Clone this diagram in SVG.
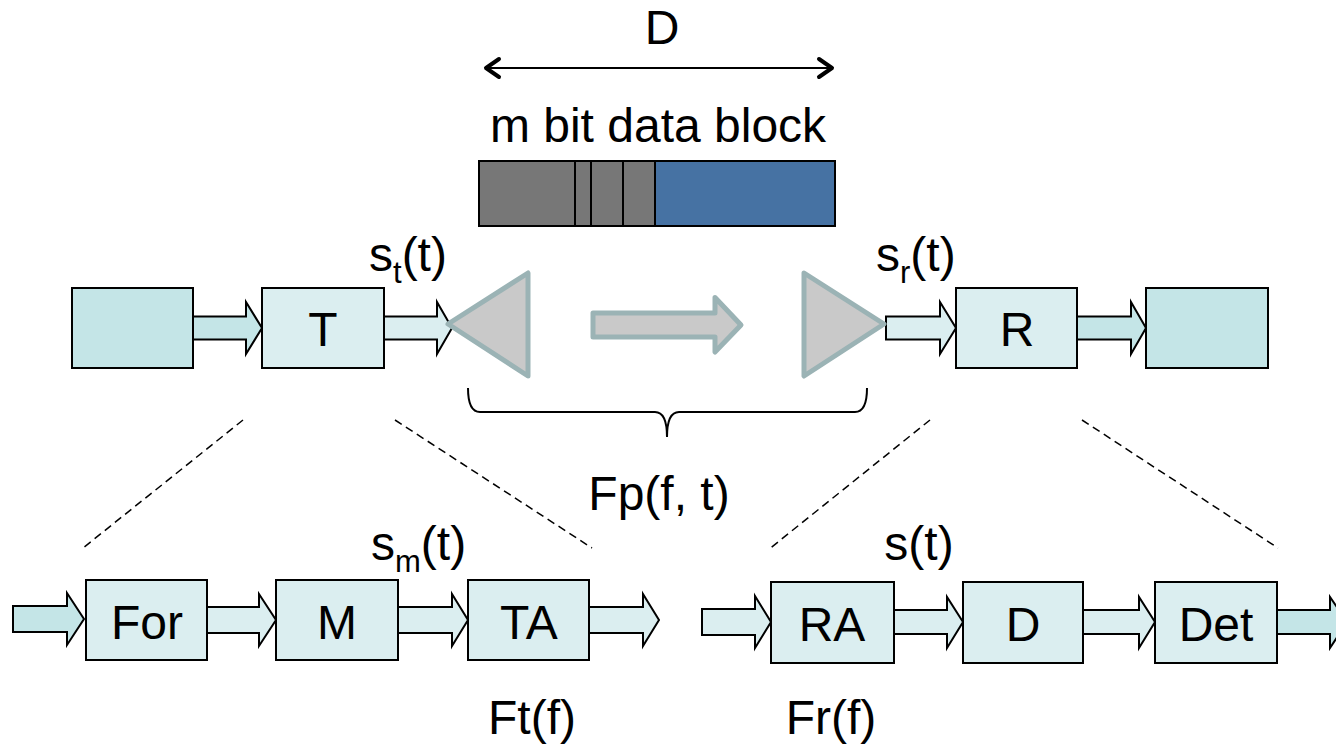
<svg xmlns="http://www.w3.org/2000/svg" width="1336" height="744" viewBox="0 0 1336 744">
<style>
text{font-family:"Liberation Sans",Arial,sans-serif;font-size:48px;fill:#000}
.c{text-anchor:middle}
.box{fill:#dbeef0;stroke:#000;stroke-width:2}
.boxd{fill:#c4e5e7;stroke:#000;stroke-width:2}
.ar{fill:#dbeef0;stroke:#000;stroke-width:2;stroke-linejoin:miter}
.ard{fill:#c4e5e7;stroke:#000;stroke-width:2}
.tri{fill:#c9c9c9;stroke:#9bb3b5;stroke-width:5;stroke-linejoin:round}
.dash{stroke:#000;stroke-width:1.5;stroke-dasharray:8 5;fill:none}
.sub{font-size:31px}
</style>
<rect width="1336" height="744" fill="#fff"/>

<g id="dimension">
<line x1="487" y1="68" x2="831" y2="68" stroke="#000" stroke-width="2"/>
<polyline points="499,59 486,68 499,77" fill="none" stroke="#000" stroke-width="4" stroke-linecap="round" stroke-linejoin="round"/>
<polyline points="819,59 832,68 819,77" fill="none" stroke="#000" stroke-width="4" stroke-linecap="round" stroke-linejoin="round"/>
<text class="c" x="662" y="44">D</text>
</g>

<g id="datablock">
<text class="c" x="658" y="142">m bit data block</text>
<rect x="479" y="161" width="176" height="65" fill="#777777" stroke="#000" stroke-width="2"/>
<rect x="655" y="161" width="180" height="65" fill="#4672a3" stroke="#000" stroke-width="2"/>
<line x1="575" y1="161" x2="575" y2="226" stroke="#000" stroke-width="2"/>
<line x1="591" y1="161" x2="591" y2="226" stroke="#000" stroke-width="2"/>
<line x1="623" y1="161" x2="623" y2="226" stroke="#000" stroke-width="2"/>
</g>

<g id="connectors">
<path class="ard" d="M193,316.5 H246 V302 L262,328 L246,354 V339.5 H193 Z"/>
<path class="ar" d="M384,316.5 H437 V302 L452,328 L437,354 V339.5 H384 Z"/>
<path class="ar" d="M886,316.5 H940 V302 L956,328 L940,354 V339.5 H886 Z"/>
<path class="ard" d="M1077,316.5 H1131 V302 L1146,328 L1131,354 V339.5 H1077 Z"/>
<path class="tri" d="M593,313 H715 V297.5 L741,325 L715,352 V337 H593 Z"/>

<path class="ard" d="M13,606 H67 V593 L84,619 L67,645 V632 H13 Z"/>
<path class="ar" d="M207,607 H259 V594 L276,620 L259,646 V633 H207 Z"/>
<path class="ar" d="M398,607 H452 V594 L468,620 L452,646 V633 H398 Z"/>
<path class="ar" d="M589,607 H643 V594 L659,620 L643,646 V633 H589 Z"/>

<path class="ar" d="M702,609 H755 V596 L771,622 L755,648 V635 H702 Z"/>
<path class="ar" d="M894,610 H947 V597 L963,622 L947,648 V634 H894 Z"/>
<path class="ar" d="M1083,610 H1139 V597 L1155,622 L1139,648 V634 H1083 Z"/>
<path class="ard" d="M1277,610 H1330 V597 L1347,622 L1330,648 V634 H1277 Z"/>

<line class="dash" x1="243" y1="420" x2="83" y2="548"/>
<line class="dash" x1="395" y1="420" x2="592" y2="548"/>
<line class="dash" x1="930" y1="420" x2="768" y2="550"/>
<line class="dash" x1="1082" y1="420" x2="1278" y2="548"/>

<path d="M468,388 Q468,412 480,412 H655 Q667,412 667,437 Q667,412 679,412 H855 Q867,412 867,388" fill="none" stroke="#000" stroke-width="2"/>
</g>

<g id="src"><rect class="boxd" x="72" y="288" width="121" height="80"/></g>
<g id="T"><rect class="box" x="262" y="288" width="122" height="80"/><text class="c" x="323" y="346">T</text></g>
<g id="txant"><path class="tri" d="M448,324 L528,273 V376 Z"/></g>
<g id="rxant"><path class="tri" d="M804,273 L884,324 L804,376 Z"/></g>
<g id="R"><rect class="box" x="956" y="288" width="121" height="80"/><text class="c" x="1017" y="346">R</text></g>
<g id="sink"><rect class="boxd" x="1146" y="288" width="122" height="80"/></g>

<g id="For"><rect class="box" x="86" y="580" width="121" height="80"/><text class="c" x="147" y="639">For</text></g>
<g id="M"><rect class="box" x="276" y="580" width="122" height="80"/><text class="c" x="337" y="639">M</text></g>
<g id="TA"><rect class="box" x="468" y="580" width="121" height="80"/><text class="c" x="529" y="639">TA</text></g>
<g id="RA"><rect class="box" x="771" y="582" width="123" height="81"/><text class="c" x="832" y="641">RA</text></g>
<g id="D"><rect class="box" x="963" y="582" width="120" height="81"/><text class="c" x="1023" y="641">D</text></g>
<g id="Det"><rect class="box" x="1155" y="582" width="122" height="81"/><text class="c" x="1216" y="641">Det</text></g>

<g id="labels">
<text x="369" y="271">s<tspan class="sub" dy="12">t</tspan><tspan dy="-12">(t)</tspan></text>
<text x="876" y="271">s<tspan class="sub" dy="12">r</tspan><tspan dy="-12">(t)</tspan></text>
<text x="371" y="560">s<tspan class="sub" dy="12">m</tspan><tspan dy="-12">(t)</tspan></text>
<text class="c" x="919" y="560">s(t)</text>
<text class="c" x="659" y="510">Fp(f, t)</text>
<text class="c" x="532" y="734">Ft(f)</text>
<text class="c" x="831" y="734">Fr(f)</text>
</g>
</svg>
